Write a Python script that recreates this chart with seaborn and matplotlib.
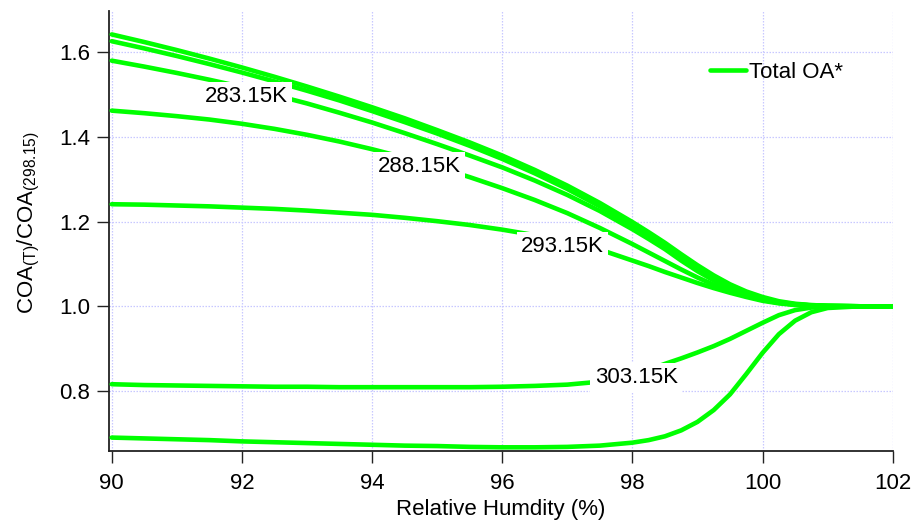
import numpy as np
import pandas as pd
import matplotlib
matplotlib.use("Agg")
import matplotlib.pyplot as plt
import seaborn as sns

# ---------------- data ----------------
rh = [90, 90.5, 91, 91.5, 92, 92.5, 93, 93.5, 94, 94.5, 95, 95.5, 96, 96.5, 97, 97.5,
      98, 98.25, 98.5, 98.75, 99, 99.25, 99.5, 99.75, 100, 100.25, 100.5, 100.75,
      101, 101.5, 102]

curve_273 = [1.642, 1.624, 1.605, 1.585, 1.564, 1.542, 1.519, 1.495, 1.470, 1.444,
             1.416, 1.387, 1.356, 1.322, 1.285, 1.244, 1.199, 1.175, 1.150, 1.123,
             1.097, 1.073, 1.052, 1.035, 1.022, 1.012, 1.006, 1.003, 1.001, 1.000, 1.000]
curve_278 = [1.626, 1.609, 1.591, 1.572, 1.552, 1.531, 1.509, 1.486, 1.461, 1.435,
             1.408, 1.379, 1.348, 1.314, 1.277, 1.236, 1.191, 1.167, 1.142, 1.116,
             1.090, 1.067, 1.047, 1.031, 1.019, 1.010, 1.005, 1.002, 1.001, 1.000, 1.000]
curve_283 = [1.580, 1.566, 1.551, 1.535, 1.518, 1.499, 1.479, 1.457, 1.434, 1.409,
             1.383, 1.356, 1.328, 1.297, 1.263, 1.225, 1.182, 1.159, 1.135, 1.108,
             1.083, 1.061, 1.043, 1.028, 1.017, 1.009, 1.004, 1.002, 1.001, 1.000, 1.000]
curve_288 = [1.462, 1.456, 1.449, 1.441, 1.431, 1.419, 1.405, 1.389, 1.371, 1.351,
             1.329, 1.305, 1.279, 1.251, 1.220, 1.185, 1.147, 1.127, 1.107, 1.087,
             1.068, 1.051, 1.036, 1.024, 1.015, 1.008, 1.004, 1.002, 1.001, 1.000, 1.000]
curve_293 = [1.241, 1.240, 1.238, 1.236, 1.233, 1.230, 1.226, 1.221, 1.216, 1.209,
             1.201, 1.192, 1.181, 1.168, 1.153, 1.134, 1.108, 1.095, 1.081, 1.068,
             1.055, 1.043, 1.032, 1.022, 1.013, 1.007, 1.003, 1.001, 1.000, 1.000, 1.000]
curve_303 = [0.816, 0.814, 0.813, 0.812, 0.811, 0.810, 0.810, 0.809, 0.809, 0.809,
             0.809, 0.809, 0.810, 0.812, 0.815, 0.822, 0.838, 0.850, 0.864, 0.877,
             0.891, 0.906, 0.923, 0.942, 0.961, 0.979, 0.991, 0.997, 0.999, 1.000, 1.000]
curve_308 = [0.690, 0.688, 0.686, 0.684, 0.681, 0.679, 0.677, 0.675, 0.673, 0.671,
             0.670, 0.668, 0.667, 0.667, 0.668, 0.671, 0.678, 0.684, 0.693, 0.707,
             0.727, 0.755, 0.792, 0.840, 0.890, 0.934, 0.966, 0.986, 0.996, 1.000, 1.000]

series_names = ["273.15K", "278.15K", "283.15K", "288.15K", "293.15K", "303.15K", "308.15K"]
series_values = [curve_273, curve_278, curve_283, curve_288, curve_293, curve_303, curve_308]

tag_text = ["283.15K", "288.15K", "293.15K", "303.15K"]
x_ticks = [90, 92, 94, 96, 98, 100, 102]
y_ticks = [0.8, 1.0, 1.2, 1.4, 1.6]
legend_label = "Total OA*"

# ---------------- styling ----------------
sns.set_style("white")
plt.rcParams["font.family"] = ["Liberation Sans", "DejaVu Sans"]
plt.rcParams["mathtext.fontset"] = "custom"
plt.rcParams["mathtext.rm"] = "Liberation Sans"
plt.rcParams["mathtext.it"] = "Liberation Sans:italic"
plt.rcParams["mathtext.bf"] = "Liberation Sans:bold"
plt.rcParams["mathtext.sf"] = "Liberation Sans"
plt.rcParams["text.color"] = "black"
plt.rcParams["axes.labelcolor"] = "black"
plt.rcParams["xtick.color"] = "black"
plt.rcParams["ytick.color"] = "black"

GREEN = "#00ff00"
FS = 16

df = pd.concat(
    [pd.DataFrame({"rh": rh, "ratio": v, "temp": n}) for n, v in zip(series_names, series_values)],
    ignore_index=True,
)

fig = plt.figure(figsize=(9.12, 5.21), dpi=100)
ax = fig.add_axes([109 / 912, 1 - 451 / 521, (892.7 - 109) / 912, (451 - 11) / 521])

sns.lineplot(data=df, x="rh", y="ratio", units="temp", estimator=None,
             color=GREEN, lw=3.3, ax=ax, legend=False, zorder=3)

ax.set_xlim(89.958, 102.0)
ax.set_ylim(0.6583, 1.6973)
ax.set_xticks(x_ticks)
ax.set_yticks(y_ticks)
ax.set_xticklabels([str(t) for t in x_ticks])
ax.set_yticklabels([f"{t:.1f}" for t in y_ticks])

ax.grid(True, color="#c8c8ff", linestyle=(0, (1.2, 1.2)), linewidth=0.9, zorder=0)
ax.set_axisbelow(True)

for s in ["top", "right"]:
    ax.spines[s].set_visible(False)
for s in ["left", "bottom"]:
    ax.spines[s].set_color("#222222")
    ax.spines[s].set_linewidth(1.3)

ax.tick_params(axis="both", which="major", bottom=True, left=True, direction="out",
               length=8.6, width=1.0, color="#222222",
               labelsize=FS, labelcolor="black", pad=5)
ax.tick_params(axis="x", pad=7)

ax.set_xlabel("Relative Humdity (%)", fontsize=FS, labelpad=4, color="black")
ax.set_ylabel(r"COA$_{\mathrm{(T)}}$/COA$_{\mathrm{(298.15)}}$", fontsize=FS, color="black")
ax.yaxis.set_label_coords(-0.085, 0.519)

# curve tags with opaque white boxes (like the original)
tag_pos = [(91.43, 1.4824), (94.09, 1.3171), (96.29, 1.128), (97.42, 0.8182)]
for txt, (tx, ty) in zip(tag_text, tag_pos):
    ax.text(tx, ty, txt, fontsize=FS, ha="left", va="baseline", zorder=5, color="black",
            bbox=dict(boxstyle="square,pad=0.2", fc="white", ec="none"))

leg = ax.legend([ax.lines[0]], [legend_label], loc="center left",
                bbox_to_anchor=((710 - 109) / 783.7, (451 - 72) / 440),
                frameon=False, fontsize=FS, handlelength=1.6, handletextpad=0.15,
                borderpad=0, borderaxespad=0)
for t in leg.get_texts():
    t.set_color("black")

fig.savefig("out.png", dpi=100)
